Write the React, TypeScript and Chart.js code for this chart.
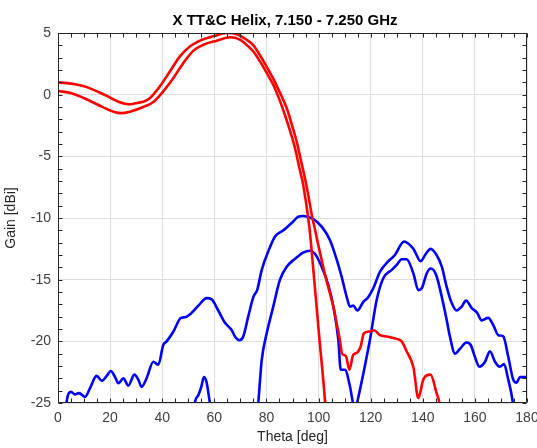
import React, { useEffect, useRef } from "react";
import { Chart, registerables } from "chart.js";

Chart.register(...registerables);

const titleText = "X TT&C Helix, 7.150 - 7.250 GHz";
const xLabel = "Theta [deg]";
const yLabel = "Gain [dBi]";

const xTicks = [0, 20, 40, 60, 80, 100, 120, 140, 160, 180];
const yTicks = [-25, -20, -15, -10, -5, 0, 5];

// Red (outer, starts at +1 dB, with tail)
const red1Theta = [0, 6.5, 11.6, 18, 23.2, 27.6, 30.8, 33, 35.3, 39.1, 43, 46.8, 50.7, 54.5, 59.6, 64.7, 68.6, 72.4, 75, 77.5, 80, 82.6, 85.2, 87.8, 89.7, 91.6, 93.2, 94.8, 96.1, 97.4, 98.7, 99.9, 101.2, 102.5, 104.1, 105.7, 107, 108.2, 109, 110.5, 111.8, 113.3, 114.9, 116.2, 117.4, 119.7, 121.3, 123.6, 126.1, 130, 131.9, 133.8, 136.4, 138.3, 140.2, 143, 145.3, 146.4, 147.5];
const red1Gain = [1.0, 0.84, 0.57, -0.03, -0.57, -0.78, -0.65, -0.55, -0.27, 0.68, 1.9, 3.1, 3.92, 4.38, 4.73, 5.0, 4.9, 4.45, 4.0, 3.2, 2.3, 1.3, 0.15, -1.1, -2.4, -3.8, -5.3, -6.8, -8.2, -9.75, -11.0, -12.2, -13.4, -14.6, -15.9, -17.2, -18.6, -19.9, -21.0, -21.2, -22.3, -21.1, -20.9, -20.4, -19.35, -19.2, -19.1, -19.5, -19.6, -19.8, -20.0, -20.8, -22.1, -24.6, -23.1, -22.7, -24.2, -25, -27];

// Red (inner, starts at +0.3 dB)
const red2Theta = [0, 5.2, 11.6, 16.8, 21.9, 24.4, 27.6, 32.7, 36.6, 40.4, 44.3, 48.1, 52, 55.8, 60.9, 66, 69.8, 73, 75, 77.5, 80, 82.6, 85, 87.1, 89, 91, 92.5, 94.1, 96.5, 98, 100.2, 102.5, 104];
const red2Gain = [0.3, 0.11, -0.43, -0.97, -1.43, -1.5, -1.38, -1.0, -0.6, 0.27, 1.35, 2.57, 3.57, 4.05, 4.38, 4.65, 4.46, 3.92, 3.5, 2.7, 1.8, 0.8, -0.4, -1.65, -2.9, -4.35, -5.8, -7.3, -10.8, -14.2, -19.5, -24.9, -30];

// Blue (upper)
const blue1Theta = [2.5, 3.3, 5, 6.5, 8.1, 10.4, 12.3, 14.8, 16.8, 18.7, 20.3, 21.9, 23.2, 25.1, 27, 29.3, 30.8, 32.1, 34, 36.6, 38.5, 40.4, 41.7, 44.3, 47.2, 48.7, 50.7, 53.9, 57.1, 59, 61.5, 64.1, 66.7, 67.9, 69.6, 71.1, 73, 75, 76.5, 78.2, 80.9, 83.3, 86.5, 89.7, 92.2, 94.1, 98, 101.2, 104.4, 107, 108.9, 110.8, 112.1, 113.3, 114.9, 117.2, 119.1, 121, 123.6, 126.8, 129.3, 132.8, 136.4, 139.2, 141.2, 143, 145.3, 147.3, 149.2, 151.1, 153, 154.9, 156.6, 158.8, 160.9, 162.6, 165.1, 167.1, 169, 170.9, 172.8, 174.7, 176, 177.3, 180];
const blue1Gain = [-27, -24.9, -24.1, -24.3, -24.2, -24.5, -23.8, -22.8, -23.2, -22.8, -22.4, -22.9, -23.4, -23.0, -23.6, -22.7, -23.1, -23.7, -23.0, -21.65, -21.9, -20.3, -20.0, -19.2, -18.1, -18.05, -17.8, -17.1, -16.5, -16.6, -17.5, -18.5, -19.1, -19.6, -19.9, -19.6, -18.0, -16.4, -15.8, -14.2, -12.6, -11.5, -11.0, -10.4, -9.9, -9.84, -10.1, -10.7, -11.8, -13.4, -14.8, -16.4, -17.2, -17.1, -17.5, -16.8, -16.4, -15.7, -14.35, -13.5, -13.0, -11.9, -12.5, -13.5, -12.9, -12.5, -13.0, -13.95, -15.6, -16.9, -17.5, -17.2, -16.7, -17.3, -17.7, -18.3, -18.1, -18.7, -19.5, -19.6, -21.25, -23.1, -23.35, -22.9, -22.9];

// Blue (lower)
const blue2Theta = [51.5, 52.6, 53.8, 55, 56, 57, 58.3, 59.5, 60.6, 61.5, 68, 76, 76.9, 78.2, 80.1, 82.6, 85.2, 87.8, 91, 94.1, 96.7, 98.6, 101.2, 103.7, 105.7, 107.6, 108.5, 110.1, 112.1, 113.1, 114, 114.9, 117.2, 119.7, 122.3, 124.8, 128.1, 130, 131.9, 133.8, 136.4, 138.3, 139.6, 141.5, 143, 145.1, 147.3, 149.2, 150.4, 152.4, 154.3, 156.8, 158.4, 160, 161.7, 163.9, 165.8, 167.7, 169.6, 171.2, 172.8, 174.4, 175.5];
const blue2Gain = [-27, -24.9, -24.4, -23.7, -22.9, -23.3, -25, -26.5, -25, -27, -40, -27, -24.9, -21.5, -19.35, -17.2, -15.0, -13.95, -13.3, -12.8, -12.65, -12.9, -13.95, -15.4, -17.2, -19.9, -22.3, -22.3, -23.7, -24.9, -25.8, -24.9, -22.6, -19.9, -16.65, -14.9, -14.2, -13.8, -13.35, -13.35, -14.5, -15.85, -15.7, -14.5, -14.1, -14.6, -16.4, -18.3, -19.6, -21.0, -20.6, -20.1, -20.3, -21.25, -22.05, -21.65, -20.8, -21.65, -22.05, -21.85, -23.1, -24.75, -27];

const toPts = (xs: number[], ys: number[]) => xs.map((x, i) => ({ x, y: ys[i] }));

const FONT = "'Liberation Sans', Arial, Helvetica, sans-serif";
const AXIS_COLOR = "#262626";

const boxPlugin = {
  id: "boxTicks",
  afterDraw(chart: any) {
    const { ctx, chartArea, scales } = chart;
    const { left, right, top, bottom } = chartArea;
    const xs = scales.x;
    const ys = scales.y;
    ctx.save();
    ctx.strokeStyle = AXIS_COLOR;
    ctx.lineWidth = 1;
    const L = Math.round(left) + 0.5;
    const R = Math.round(right) - 0.5;
    const T = Math.round(top) + 0.5;
    const B = Math.round(bottom) - 0.5;
    ctx.beginPath();
    ctx.rect(L, T, R - L, B - T);
    ctx.stroke();
    ctx.beginPath();
    for (let v = 0; v <= 180; v += 5) {
      const px = Math.round(xs.getPixelForValue(v)) + 0.5;
      ctx.moveTo(px, B);
      ctx.lineTo(px, B - 4);
      ctx.moveTo(px, T);
      ctx.lineTo(px, T + 4);
    }
    for (let v = -25; v <= 5; v += 1) {
      const py = Math.round(ys.getPixelForValue(v)) + 0.5;
      ctx.moveTo(L, py);
      ctx.lineTo(L + 4, py);
      ctx.moveTo(R, py);
      ctx.lineTo(R - 4, py);
    }
    ctx.stroke();
    ctx.fillStyle = "#000";
    ctx.font = `bold 15px ${FONT}`;
    ctx.textAlign = "center";
    ctx.textBaseline = "middle";
    ctx.fillText(titleText, 285, 21);
    ctx.restore();
  },
};

export default function App() {
  const ref = useRef<HTMLCanvasElement | null>(null);
  useEffect(() => {
    document.body.style.margin = "0";
    const canvas = ref.current;
    if (!canvas) return;
    const chart = new Chart(canvas, {
      type: "line",
      data: {
        datasets: [
          { data: toPts(red1Theta, red1Gain), borderColor: "#ff0000", borderWidth: 2.6 },
          { data: toPts(red2Theta, red2Gain), borderColor: "#ff0000", borderWidth: 2.6 },
          { data: toPts(blue1Theta, blue1Gain), borderColor: "#0000ff", borderWidth: 2.6 },
          { data: toPts(blue2Theta, blue2Gain), borderColor: "#0000ff", borderWidth: 2.6 },
        ].map((d) => ({ ...d, pointRadius: 0, fill: false, cubicInterpolationMode: "monotone" as const })),
      },
      options: {
        animation: false,
        responsive: false,
        devicePixelRatio: 1,
        layout: { padding: { top: 33, right: 0, left: 0, bottom: 0 } },
        plugins: { legend: { display: false }, tooltip: { enabled: false }, title: { display: false } },
        scales: {
          x: {
            type: "linear",
            min: 0,
            max: 180,
            afterBuildTicks: (s: any) => {
              s.ticks = xTicks.map((v) => ({ value: v }));
            },
            afterFit: (s: any) => {
              s.height = 45;
              s.paddingRight = 10;
              s.paddingLeft = 0;
            },
            ticks: { color: "#404040", font: { family: FONT, size: 14 }, padding: 7, maxRotation: 0 },
            grid: { color: "#dedede", drawTicks: false, lineWidth: 1 },
            border: { display: false },
            title: { display: true, text: xLabel, color: "#262626", font: { family: FONT, size: 14 }, padding: { top: 0, bottom: 2 } },
          },
          y: {
            type: "linear",
            min: -25,
            max: 5,
            afterBuildTicks: (s: any) => {
              s.ticks = yTicks.map((v) => ({ value: v }));
            },
            afterFit: (s: any) => {
              s.width = 58;
            },
            ticks: { color: "#404040", font: { family: FONT, size: 14 }, padding: 7 },
            grid: { color: "#dedede", drawTicks: false, lineWidth: 1 },
            border: { display: false },
            title: { display: true, text: yLabel, color: "#262626", font: { family: FONT, size: 14 }, padding: { top: 3, bottom: 0 } },
          },
        },
      },
      plugins: [boxPlugin],
    });
    return () => chart.destroy();
  }, []);
  return (
    <div style={{ position: "absolute", left: 0, top: 0, width: 537, height: 448, background: "#fff" }}>
      <canvas ref={ref} width={537} height={448} style={{ width: 537, height: 448, display: "block" }} />
    </div>
  );
}
